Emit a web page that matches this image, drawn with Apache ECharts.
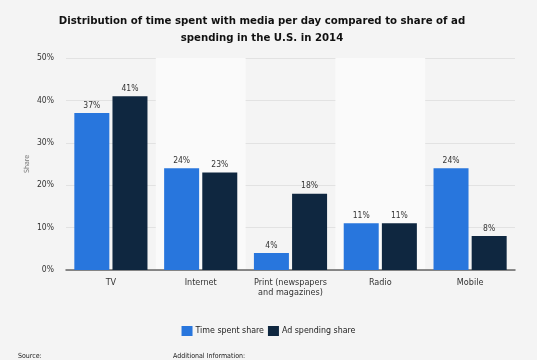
<!DOCTYPE html>
<html><head><meta charset="utf-8">
<script src="https://cdn.jsdelivr.net/npm/echarts@6/dist/echarts.min.js"></script>
<style>html,body{margin:0;padding:0;background:#f4f4f4;}#c{width:537px;height:360px;}</style>
</head><body><div id="c"></div>
<script>
const categories = ['TV', 'Internet', 'Print (newspapers\nand magazines)', 'Radio', 'Mobile'];
const timeSpent = [37, 24, 4, 11, 24];
const adSpending = [41, 23, 18, 11, 8];
const yTicks = [0, 10, 20, 30, 40, 50];

const chart = echarts.init(document.getElementById('c'), null, {renderer: 'canvas'});
const font = 'DejaVu Sans Condensed, DejaVu Sans, sans-serif';
chart.setOption({
  backgroundColor: '#f4f4f4',
  animation: false,
  legend: {
    data: ['Time spent share', 'Ad spending share'],
    bottom: 19, left: 'center',
    itemWidth: 11, itemHeight: 10, itemGap: 4, icon: 'rect',
    textStyle: {fontFamily: font, fontSize: 8.8, color: '#222', padding: [0,0,0,-2]}
  },
  graphic: [
    {type: 'text', x: 262, y: 13, style: {
      text: 'Distribution of time spent with media per day compared to share of ad\nspending in the U.S. in 2014',
      textAlign: 'center', textVerticalAlign: 'top', fontFamily: font, fontWeight: 'bold', fontSize: 11.3, lineHeight: 17, fill: '#111'}},
    {type: 'text', left: 18, top: 353, style: {text: 'Source:', fontFamily: font, fontSize: 7, fill: '#222'}},
    {type: 'text', left: 173, top: 353, style: {text: 'Additional Information:', fontFamily: font, fontSize: 7, fill: '#222'}}
  ],
  grid: {left: 66, right: 22, top: 58, bottom: 90},
  xAxis: {
    type: 'category', data: categories,
    axisLine: {lineStyle: {color: '#666', width: 1.5}},
    axisTick: {show: false},
    axisLabel: {fontFamily: font, fontSize: 9, color: '#333', margin: 8, lineHeight: 10, interval: 0},
    splitArea: {show: true, interval: 0, areaStyle: {color: ['rgba(0,0,0,0)', '#fafafa']}}
  },
  yAxis: {
    type: 'value', min: 0, max: 50, interval: 10,
    name: 'Share', nameLocation: 'middle', nameGap: 35, nameRotate: 90, nameMoveOverlap: false,
    nameTextStyle: {fontFamily: font, fontSize: 7, color: '#777'},
    axisLine: {show: false}, axisTick: {show: false},
    axisLabel: {fontFamily: font, fontSize: 8.5, color: '#333', margin: 12, formatter: v => v + '%'},
    splitLine: {lineStyle: {color: '#e2e2e2', width: 1}}
  },
  series: [
    {name: 'Time spent share', type: 'bar', data: timeSpent, barWidth: 35, barGap: '9%',
     itemStyle: {color: '#2876dd'},
     label: {show: true, position: 'top', distance: 3, fontFamily: font, fontSize: 8.5, color: '#333', formatter: p => p.value + '%'}},
    {name: 'Ad spending share', type: 'bar', data: adSpending, barWidth: 35,
     itemStyle: {color: '#0f2740'},
     label: {show: true, position: 'top', distance: 3, fontFamily: font, fontSize: 8.5, color: '#333', formatter: p => p.value + '%'}}
  ]
});
</script></body></html>
